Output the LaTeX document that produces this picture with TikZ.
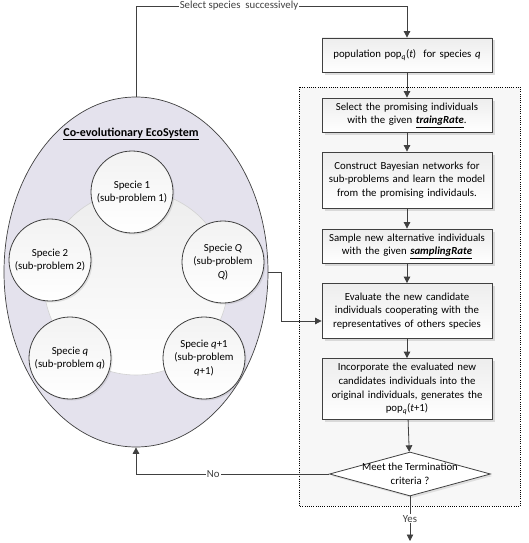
\documentclass[tikz,border=0pt]{standalone}
\usepackage{fontspec}
\setmainfont{Carlito}
\usepackage{tikz}
\usetikzlibrary{arrows.meta, positioning, calc, backgrounds, shapes.geometric, shadows}
\definecolor{ecofill}{RGB}{228,226,237}
\definecolor{linegray}{RGB}{64,64,64}
\newcommand{\ulbi}[1]{\underline{\textbf{\textit{#1}}}}

\begin{document}
\begin{tikzpicture}[
      x=1pt, y=-1pt,
      boxfont/.style={font=\fontsize{10.8}{13.6}\selectfont},
      stepbox/.style={draw=linegray, line width=0.8pt, top color=gray!14, bottom color=white, align=center, text width=164pt, inner sep=3pt, boxfont, drop shadow={shadow xshift=2.5pt, shadow yshift=-2.5pt, opacity=0.25, fill=gray}},
      decision/.style={diamond, draw=linegray, line width=0.8pt, fill=white, inner sep=0pt, minimum width=161pt, minimum height=44pt, drop shadow={shadow xshift=2pt, shadow yshift=-2pt, opacity=0.2, fill=gray}},
      ecosys/.style={ellipse, draw=linegray, line width=0.7pt, fill=ecofill, minimum width=264pt, minimum height=350pt},
      ringcol/.style={circle, draw=gray!35, line width=0.6pt, top color=gray!14, bottom color=white, minimum size=184pt},
      specie/.style={circle, draw=linegray, line width=0.8pt, top color=gray!10, bottom color=white, minimum size=82pt, inner sep=0pt, align=center, boxfont, drop shadow={shadow xshift=1.5pt, shadow yshift=-1.5pt, opacity=0.2, fill=gray}},
      arrow/.style={-{Triangle[length=6.5pt, width=6.5pt]}, line width=0.8pt, linegray},
      lab/.style={font=\fontsize{10.8}{13}\selectfont, fill=white, inner sep=1pt},
      titlelab/.style={font=\fontsize{12}{14}\selectfont\bfseries}
    ]
      \useasboundingbox (0,0) rectangle (528,543);

      % Evolution stage background
      \begin{scope}[on background layer]
        \draw[fill=gray!6, line width=0.7pt, dash pattern=on 0.8pt off 1.4pt]
          (299,87) rectangle (520,506);
      \end{scope}

      % Eco system
      \node[ecosys] (eco) at (136,272) {};
      \node[titlelab] (ecotitle) at (131,134) {\underline{Co-evolutionary EcoSystem}};
      \node[ringcol] (ring) at (136,283) {};

      \node[specie] (sp1) at (132,192) {Specie 1\\(sub-problem 1)};
      \node[specie] (sp2) at (50,260) {Specie 2\\(sub-problem 2)};
      \node[specie] (spQ) at (223,262) {Specie \textit{Q}\\(sub-problem\\\textit{Q})};
      \node[specie] (spq) at (70,358) {Specie \textit{q}\\(sub-problem \textit{q})};
      \node[specie] (spq1) at (204,358) {Specie \textit{q}+1\\(sub-problem\\\textit{q}+1)};

      % Main steps
      \node[stepbox, minimum height=34pt]
        (pop)
        at
        (407,55)
        {population pop\textsubscript{\textit{q}}(\textit{t})\ \ for species \textit{q}};

      \node[stepbox, minimum height=34pt]
        (sel)
        at
        (407,115)
        {Select the promising individuals\\with the given \ulbi{traingRate}.};

      \node[stepbox, minimum height=56pt]
        (bayes)
        at
        (407,180)
        {Construct Bayesian networks for\\sub-problems and learn the model\\from the promising individauls.};

      \node[stepbox, minimum height=34pt]
        (sample)
        at
        (407,246)
        {Sample new alternative individuals\\with the given \ulbi{samplingRate}};

      \node[stepbox, minimum height=55pt]
        (eval)
        at
        (407,311)
        {Evaluate the new candidate\\individuals cooperating with the\\representatives of others species};

      \node[stepbox, minimum height=61pt]
        (incorp)
        at
        (407,389)
        {Incorporate the evaluated new\\candidates individuals into the\\original individuals, generates the\\pop\textsubscript{\textit{q}}(\textit{t}+1)};

      \node[decision] (term) at (410,474) {};
      \node[boxfont, align=center] (termtext) at (term) {Meet the Termination\\criteria ?};

      \coordinate (topturn) at (407,6);
      \coordinate (stop) at (410,541);

      % Flow arrows
      \draw[arrow]
        (eco.north) |-
        node[lab, pos=0.69] {Select species\ \ successively}
        (topturn) --
        (pop.north);
      \draw[arrow] (pop) -- (sel);
      \draw[arrow] (sel) -- (bayes);
      \draw[arrow] (bayes) -- (sample);
      \draw[arrow] (sample) -- (eval);
      \draw[arrow] (eval) -- (incorp);
      \draw[arrow] (incorp) -- (term);
      \draw[arrow]
        (eco.east) --
        ++(13,0) |-
        ([yshift=-10pt]eval.west);
      \draw[arrow]
        (term.west) -|
        node[lab, pos=0.3] {No}
        (eco.south);
      \draw[arrow]
        (term.south) --
        node[lab] {Yes}
        (stop);
    \end{tikzpicture}
\end{document}
